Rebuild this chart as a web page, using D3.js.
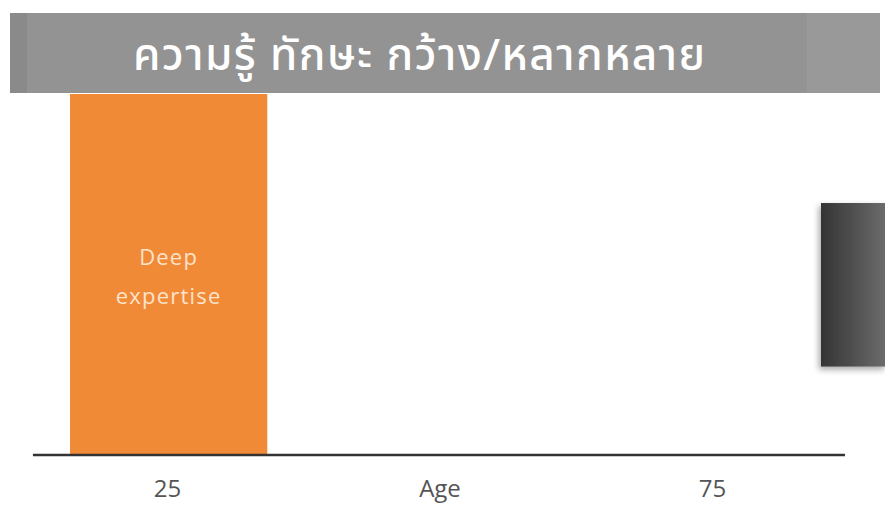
<!DOCTYPE html>
<html>
<head>
<meta charset="utf-8">
<script src="https://cdn.jsdelivr.net/npm/d3@7"></script>
<style>
  body { margin: 0; background: #fff; }
  svg { display: block; }
</style>
</head>
<body>
<div id="chart"></div>
<script>
// title and data
var title = "ความรู้ ทักษะ กว้าง/หลากหลาย";
var ages = [25, 50, 75];
var tickLabels = ["25", "Age", "75"];
var barAges = [16.1, 34.2];        // orange bar, start / end age
var barLabel = ["Deep", "expertise"];
var panelAges = [85.0, 91.0];      // dark panel on the right
var panelLevels = [0.245, 0.698];
var axisAges = [12.7, 87.2];

var width = 885, height = 520;

var svg = d3.select("#chart")
    .append("svg")
    .attr("width", width)
    .attr("height", height);

// scales
var xScale = d3.scaleLinear()
    .domain([25, 75])
    .range([167, 712]);

var yScale = d3.scaleLinear()
    .domain([0, 1])
    .range([455, 94]);

var defs = svg.append("defs");
var grad = defs.append("linearGradient")
    .attr("id", "panelGrad")
    .attr("x1", "0%").attr("x2", "100%");
grad.append("stop").attr("offset", "0%").attr("stop-color", "#343434");
grad.append("stop").attr("offset", "100%").attr("stop-color", "#6c6c6c");

var shadow = defs.append("filter").attr("id", "shadow")
    .attr("x", "-30%").attr("y", "-10%").attr("width", "160%").attr("height", "130%");
shadow.append("feDropShadow")
    .attr("dx", -2).attr("dy", 3).attr("stdDeviation", 3)
    .attr("flood-color", "#000").attr("flood-opacity", 0.35);

// orange bar
svg.append("rect")
    .attr("x", xScale(barAges[0]))
    .attr("width", xScale(barAges[1]) - xScale(barAges[0]))
    .attr("y", yScale(1))
    .attr("height", yScale(0) - yScale(1))
    .attr("fill", "#f08a36");

var barMid = xScale((barAges[0] + barAges[1]) / 2);
svg.append("g")
    .selectAll("text")
    .data(barLabel)
    .enter()
    .append("text")
    .attr("x", barMid)
    .attr("y", function (d, i) { return 265 + i * 39; })
    .attr("text-anchor", "middle")
    .attr("font-family", "'Open Sans', Lato, sans-serif")
    .attr("font-size", 22)
    .attr("letter-spacing", 1.2)
    .attr("fill", "#fde3cc")
    .text(function (d) { return d; });

// title bar
svg.append("rect")
    .attr("x", 10).attr("y", 13)
    .attr("width", 870).attr("height", 80)
    .attr("fill", "#939393");
svg.append("rect")
    .attr("x", 10).attr("y", 13)
    .attr("width", 17).attr("height", 80)
    .attr("fill", "#8a8a8a");
svg.append("rect")
    .attr("x", 807).attr("y", 13)
    .attr("width", 73).attr("height", 80)
    .attr("fill", "#999999");

svg.append("text")
    .attr("x", 133)
    .attr("y", 70)
    .attr("font-family", "'Noto Sans Thai', 'Noto Sans', 'DejaVu Sans', sans-serif")
    .attr("font-size", 44)
    .attr("font-weight", 500)
    .attr("fill", "#ffffff")
    .attr("textLength", 572)
    .attr("lengthAdjust", "spacing")
    .text(title);

// dark panel on the right
svg.append("rect")
    .attr("x", xScale(panelAges[0]))
    .attr("width", xScale(panelAges[1]) - xScale(panelAges[0]))
    .attr("y", yScale(panelLevels[1]))
    .attr("height", yScale(panelLevels[0]) - yScale(panelLevels[1]))
    .attr("fill", "url(#panelGrad)")
    .attr("filter", "url(#shadow)");

// axis
var xAxis = d3.axisBottom(xScale)
    .tickValues(ages)
    .tickSize(0)
    .tickPadding(25)
    .tickFormat(function (d, i) { return tickLabels[i]; });

var axisG = svg.append("g")
    .attr("class", "axis x")
    .attr("transform", "translate(0," + yScale(0) + ")")
    .call(xAxis);

axisG.select(".domain").remove();
axisG.append("line")
    .attr("x1", xScale(axisAges[0]))
    .attr("x2", xScale(axisAges[1]))
    .attr("stroke", "#333")
    .attr("stroke-width", 2.5);

axisG.selectAll("text")
    .attr("font-family", "'Open Sans', Lato, sans-serif")
    .attr("font-size", 24)
    .attr("fill", "#555");
</script>
</body>
</html>
